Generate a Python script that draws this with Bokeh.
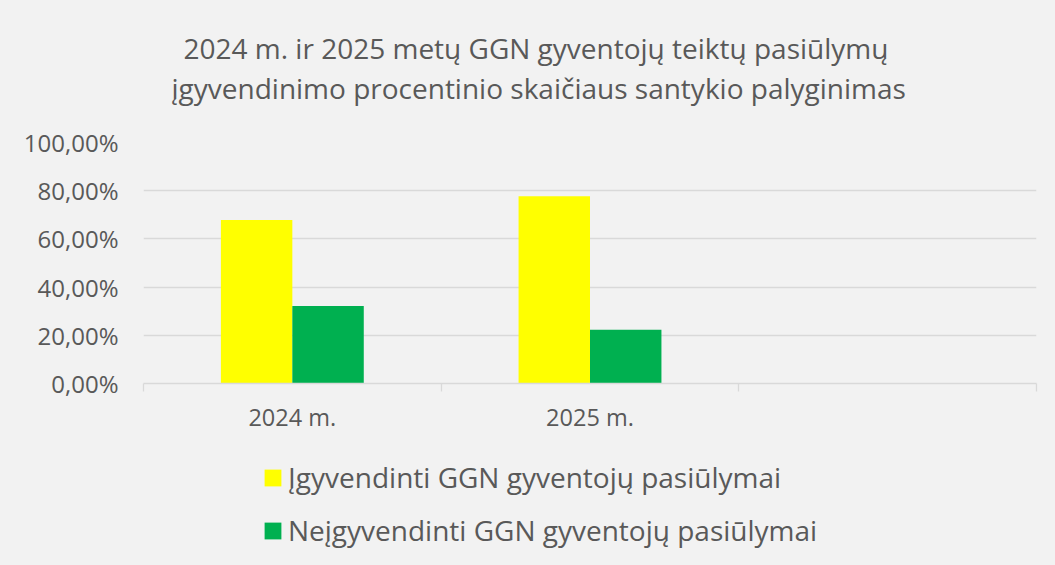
from bokeh.plotting import figure
from bokeh.layouts import column
from bokeh.models import (Range1d, FixedTicker, Title, Legend, LegendItem, ColumnDataSource)
from bokeh.embed import file_html
from bokeh.resources import INLINE

# ---- data ----
categories = ["2024 m.", "2025 m.", ""]
implemented = [67.8, 77.7]          # Įgyvendinti GGN gyventojų pasiūlymai (%)
not_implemented = [32.2, 22.3]      # Neįgyvendinti GGN gyventojų pasiūlymai (%)
series_names = ["Įgyvendinti GGN gyventojų pasiūlymai",
                "Neįgyvendinti GGN gyventojų pasiūlymai"]
y_ticks = [0, 20, 40, 60, 80, 100]
y_tick_labels = ["0,00%", "20,00%", "40,00%", "60,00%", "80,00%", "100,00%"]
title_lines = ["2024 m. ir 2025 metų GGN gyventojų teiktų pasiūlymų",
               "įgyvendinimo procentinio skaičiaus santykio palyginimas"]

FONT = "Open Sans"
TXT = "#595959"
BG = "#F2F2F2"
GRID = "#D9D9D9"
YELLOW = "#FFFF00"
GREEN = "#00B050"
COLORS = [YELLOW, GREEN]

n = len(categories)
bar_w = 0.24
centers = [i + 0.5 for i in range(n)]

src1 = ColumnDataSource(dict(x=[centers[i] - bar_w / 2 for i in range(len(implemented))],
                             top=implemented))
src2 = ColumnDataSource(dict(x=[centers[i] + bar_w / 2 for i in range(len(not_implemented))],
                             top=not_implemented))
sources = [src1, src2]

# ---------------- main chart ----------------
p = figure(width=1055, height=440, output_backend="svg", toolbar_location=None,
           x_range=Range1d(0, n), y_range=Range1d(0, 100),
           min_border_left=143, min_border_right=19, min_border_top=142,
           min_border_bottom=57)
p.background_fill_color = BG
p.border_fill_color = BG
p.outline_line_color = None
p.title.text = ""
p.styles = {"background-color": BG}

# titles (added closest-first); first one is a blank spacer
spacer = Title(text=" ", text_font_size="1px", standoff=33, text_color=BG)
t2 = Title(text=title_lines[1], align="left", offset=28, standoff=0,
           text_font=FONT, text_font_size="28px", text_font_style="normal",
           text_color=TXT)
t1 = Title(text=title_lines[0], align="left", offset=40, standoff=0,
           text_font=FONT, text_font_size="28px", text_font_style="normal",
           text_color=TXT)
p.add_layout(spacer, "above")
p.add_layout(t2, "above")
p.add_layout(t1, "above")

# bars
for src, col in zip(sources, COLORS):
    p.vbar(x="x", top="top", width=bar_w, bottom=0, source=src,
           fill_color=col, line_color=None)

# y axis
p.yaxis.ticker = FixedTicker(ticks=y_ticks)
p.yaxis.major_label_overrides = {t: l for t, l in zip(y_ticks, y_tick_labels)}
p.yaxis.axis_line_color = None
p.yaxis.major_tick_line_color = None
p.yaxis.minor_tick_line_color = None
p.yaxis.major_label_standoff = 19
p.yaxis.major_label_text_font = FONT
p.yaxis.major_label_text_font_size = "24px"
p.yaxis.major_label_text_color = TXT
p.ygrid.grid_line_color = GRID
p.ygrid.grid_line_width = 1.3
p.ygrid.ticker = FixedTicker(ticks=y_ticks[1:])
p.xgrid.grid_line_color = None

# x axis: labels at category centers, ticks at category boundaries
p.xaxis.ticker = FixedTicker(ticks=centers, minor_ticks=list(range(n + 1)))
p.xaxis.major_label_overrides = {c: l for c, l in zip(centers, categories)}
p.xaxis.axis_line_color = GRID
p.xaxis.axis_line_width = 1.3
p.xaxis.major_tick_out = 0
p.xaxis.major_tick_in = 0
p.xaxis.minor_tick_out = 8
p.xaxis.minor_tick_in = 0
p.xaxis.minor_tick_line_color = GRID
p.xaxis.minor_tick_line_width = 1.3
p.xaxis.major_label_standoff = 9
p.xaxis.major_label_text_font = FONT
p.xaxis.major_label_text_font_size = "23.5px"
p.xaxis.major_label_text_color = TXT

# ---------------- legend strip (frame aligned with the chart's frame) ----------------
lg = figure(width=1055, height=125, output_backend="svg", toolbar_location=None,
            x_axis_type=None, y_axis_type=None,
            x_range=Range1d(1000, 1001), y_range=Range1d(1000, 1001),
            min_border_left=143, min_border_right=19,
            min_border_top=0, min_border_bottom=0)
lg.background_fill_color = BG
lg.border_fill_color = BG
lg.outline_line_color = None
lg.grid.visible = False
lg.title.text = ""
lg.styles = {"background-color": BG}

items = []
for name, src, col in zip(series_names, sources, COLORS):
    # same bars, far outside this strip's visible ranges: only their legend swatch shows
    r = lg.vbar(x="x", top="top", width=bar_w, bottom=0, source=src,
                fill_color=col, line_color=None)
    items.append(LegendItem(label=name, renderers=[r]))

legend = Legend(items=items, location=(119, 16), orientation="vertical",
                glyph_width=21, glyph_height=21, label_standoff=5,
                spacing=15, padding=0, margin=0,
                border_line_color=None, background_fill_alpha=0,
                label_text_font=FONT, label_text_font_size="28px",
                label_text_color=TXT)
lg.add_layout(legend, "center")

layout = column(p, lg, spacing=0)
layout.styles = {"background-color": BG}
open("out.html", "w").write(file_html(layout, INLINE))
